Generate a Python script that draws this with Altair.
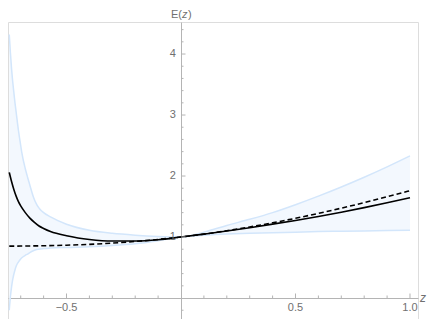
import altair as alt
import pandas as pd

# ---------------- data ----------------
z_band = [-0.75, -0.745, -0.74, -0.735, -0.73, -0.725, -0.72, -0.71, -0.70, -0.695,
          -0.68, -0.67, -0.66, -0.645, -0.63, -0.615, -0.6, -0.57, -0.5, -0.4,
          -0.3, -0.2, -0.1, 0.0, 0.1, 0.2, 0.3, 0.4, 0.5, 0.6, 0.7, 0.8, 0.9, 1.0]
upper = [4.32, 4.02, 3.76, 3.55, 3.37, 3.20, 3.05, 2.75, 2.50, 2.38,
         2.12, 1.98, 1.85, 1.66, 1.53, 1.45, 1.40, 1.33, 1.21, 1.11,
         1.06, 1.03, 1.01, 1.00, 1.08, 1.19, 1.29, 1.40, 1.53, 1.67, 1.82, 1.98, 2.15, 2.33]
lower = [-0.20, 0.02, 0.18, 0.30, 0.39, 0.46, 0.52, 0.59, 0.64, 0.66,
         0.70, 0.72, 0.745, 0.775, 0.795, 0.805, 0.81, 0.82, 0.83, 0.84,
         0.86, 0.89, 0.94, 1.00, 1.03, 1.05, 1.06, 1.07, 1.08, 1.09, 1.095, 1.10, 1.105, 1.11]

z_solid = [-0.75, -0.74, -0.73, -0.72, -0.71, -0.70, -0.68, -0.66, -0.64, -0.62,
           -0.6, -0.57, -0.5, -0.45, -0.4, -0.3, -0.2, -0.1, 0.0,
           0.1, 0.2, 0.3, 0.4, 0.5, 0.6, 0.7, 0.8, 0.9, 1.0]
solid = [2.06, 1.91, 1.78, 1.67, 1.58, 1.51, 1.40, 1.31, 1.24, 1.18,
         1.14, 1.09, 1.02, 0.985, 0.96, 0.935, 0.935, 0.955, 1.00,
         1.048, 1.098, 1.153, 1.211, 1.272, 1.337, 1.407, 1.482, 1.561, 1.645]

z_dash = [-0.75, -0.7, -0.6, -0.5, -0.4, -0.3, -0.2, -0.1, 0.0,
          0.1, 0.2, 0.3, 0.4, 0.5, 0.6, 0.7, 0.8, 0.9, 1.0]
dashed = [0.85, 0.852, 0.857, 0.866, 0.88, 0.90, 0.927, 0.96, 1.00,
          1.048, 1.103, 1.165, 1.233, 1.307, 1.387, 1.473, 1.564, 1.66, 1.76]

x_major = [-0.5, 0.5, 1.0]
x_major_labels = ["\u22120.5", "0.5", "1.0"]
x_minor = [-0.7, -0.6, -0.4, -0.3, -0.2, -0.1, 0.1, 0.2, 0.3, 0.4, 0.6, 0.7, 0.8, 0.9]
y_major = [1, 2, 3, 4]
y_major_labels = ["1", "2", "3", "4"]
y_minor = [-0.2, 0.2, 0.4, 0.6, 0.8, 1.2, 1.4, 1.6, 1.8, 2.2, 2.4, 2.6, 2.8,
           3.2, 3.4, 3.6, 3.8, 4.2, 4.4]

# ---------------- layout ----------------
W, H = 410, 297
PAD_TOP = 14
XDOM = [-0.7555, 1.035]
YDOM = [-0.344, 4.525]
y0px = round(H * (YDOM[1] - 0) / (YDOM[1] - YDOM[0]))
x0px = round(W * (0 - XDOM[0]) / (XDOM[1] - XDOM[0]))

AX = "#b4b4b4"
LAB = "#707070"
FONT = "Liberation Sans"
BAND_LINE = "#d3e6fb"
BAND_FILL = "#f3f8fe"
MAJ, MIN = 4.5, 2.5

x_axis = alt.Axis(orient="top", offset=-y0px, ticks=False, labels=False, grid=False,
                  title=None, domainColor=AX, domainWidth=1)
y_axis = alt.Axis(orient="right", offset=-(W - x0px), ticks=False, labels=False, grid=False,
                  title=None, domainColor=AX, domainWidth=1)

xs = alt.Scale(domain=XDOM, nice=False, zero=False)
ys = alt.Scale(domain=YDOM, nice=False, zero=False)

def X(f="z"):
    return alt.X(f"{f}:Q", scale=xs, axis=x_axis)

def Y(f):
    return alt.Y(f"{f}:Q", scale=ys, axis=y_axis)

band_df = pd.DataFrame({"z": z_band, "upper": upper, "lower": lower})
solid_df = pd.DataFrame({"z": z_solid, "E": solid})
dash_df = pd.DataFrame({"z": z_dash, "E": dashed})
xmaj_df = pd.DataFrame({"z": x_major, "lab": x_major_labels})
xmin_df = pd.DataFrame({"z": x_minor})
ymaj_df = pd.DataFrame({"E": y_major, "lab": y_major_labels})
ymin_df = pd.DataFrame({"E": y_minor})

fill = alt.Chart(band_df).mark_area(color=BAND_FILL, interpolate="monotone", opacity=1).encode(
    x=X(), y=Y("upper"), y2="lower:Q")
up_line = alt.Chart(band_df).mark_line(color=BAND_LINE, strokeWidth=1.5, interpolate="monotone").encode(
    x=X(), y=Y("upper"))
lo_line = alt.Chart(band_df).mark_line(color=BAND_LINE, strokeWidth=1.5, interpolate="monotone").encode(
    x=X(), y=Y("lower"))
dash_line = alt.Chart(dash_df).mark_line(color="black", strokeWidth=1.6, strokeDash=[5, 3],
                                         interpolate="monotone").encode(x=X(), y=Y("E"))
solid_line = alt.Chart(solid_df).mark_line(color="black", strokeWidth=1.6,
                                           interpolate="monotone").encode(x=X(), y=Y("E"))

# ticks (pointing into the plot, Mathematica style)
xt_maj = alt.Chart(xmaj_df).mark_tick(orient="vertical", size=MAJ, thickness=1, color=AX, opacity=1,
                                      yOffset=-MAJ / 2).encode(x=X(), y=alt.datum(0))
xt_min = alt.Chart(xmin_df).mark_tick(orient="vertical", size=MIN, thickness=1, color=AX, opacity=1,
                                      yOffset=-MIN / 2).encode(x=X(), y=alt.datum(0))
yt_maj = alt.Chart(ymaj_df).mark_tick(orient="horizontal", size=MAJ, thickness=1, color=AX, opacity=1,
                                      xOffset=MAJ / 2).encode(x=alt.datum(0), y=Y("E"))
yt_min = alt.Chart(ymin_df).mark_tick(orient="horizontal", size=MIN, thickness=1, color=AX, opacity=1,
                                      xOffset=MIN / 2).encode(x=alt.datum(0), y=Y("E"))

# tick labels
xl = alt.Chart(xmaj_df).mark_text(font=FONT, fontSize=11, color=LAB, baseline="middle",
                                  align="center", dy=10).encode(x=X(), y=alt.datum(0), text="lab:N")
yl = alt.Chart(ymaj_df).mark_text(font=FONT, fontSize=11, color=LAB, baseline="middle",
                                  align="right", dx=-5).encode(x=alt.datum(0), y=Y("E"), text="lab:N")

one = pd.DataFrame({"a": [0]})
TY = -7
t1 = alt.Chart(one).mark_text(text="E(", align="right", baseline="middle", dx=1, font=FONT,
                              fontSize=11, color=LAB).encode(x=alt.datum(0), y=alt.value(TY))
t2 = alt.Chart(one).mark_text(text="z", align="left", baseline="middle", dx=1, font=FONT,
                              fontSize=11, fontStyle="italic", color=LAB).encode(x=alt.datum(0), y=alt.value(TY))
t3 = alt.Chart(one).mark_text(text=")", align="left", baseline="middle", dx=7, font=FONT,
                              fontSize=11, color=LAB).encode(x=alt.datum(0), y=alt.value(TY))
tz = alt.Chart(one).mark_text(text="z", align="center", baseline="middle", font=FONT,
                              fontSize=12, fontStyle="italic", color=LAB).encode(
    x=alt.value(W + 5), y=alt.datum(0))

chart = alt.layer(fill, up_line, lo_line, dash_line, solid_line,
                  xt_maj, xt_min, yt_maj, yt_min, xl, yl, t1, t2, t3, tz).properties(
    width=W, height=H,
    autosize=alt.AutoSizeParams(type="none"),
    padding={"left": 0, "top": PAD_TOP, "right": 10, "bottom": 0},
).configure_view(stroke=None).configure(background="white")

chart.save("out.html", embed_options={"renderer": "svg", "actions": False})
